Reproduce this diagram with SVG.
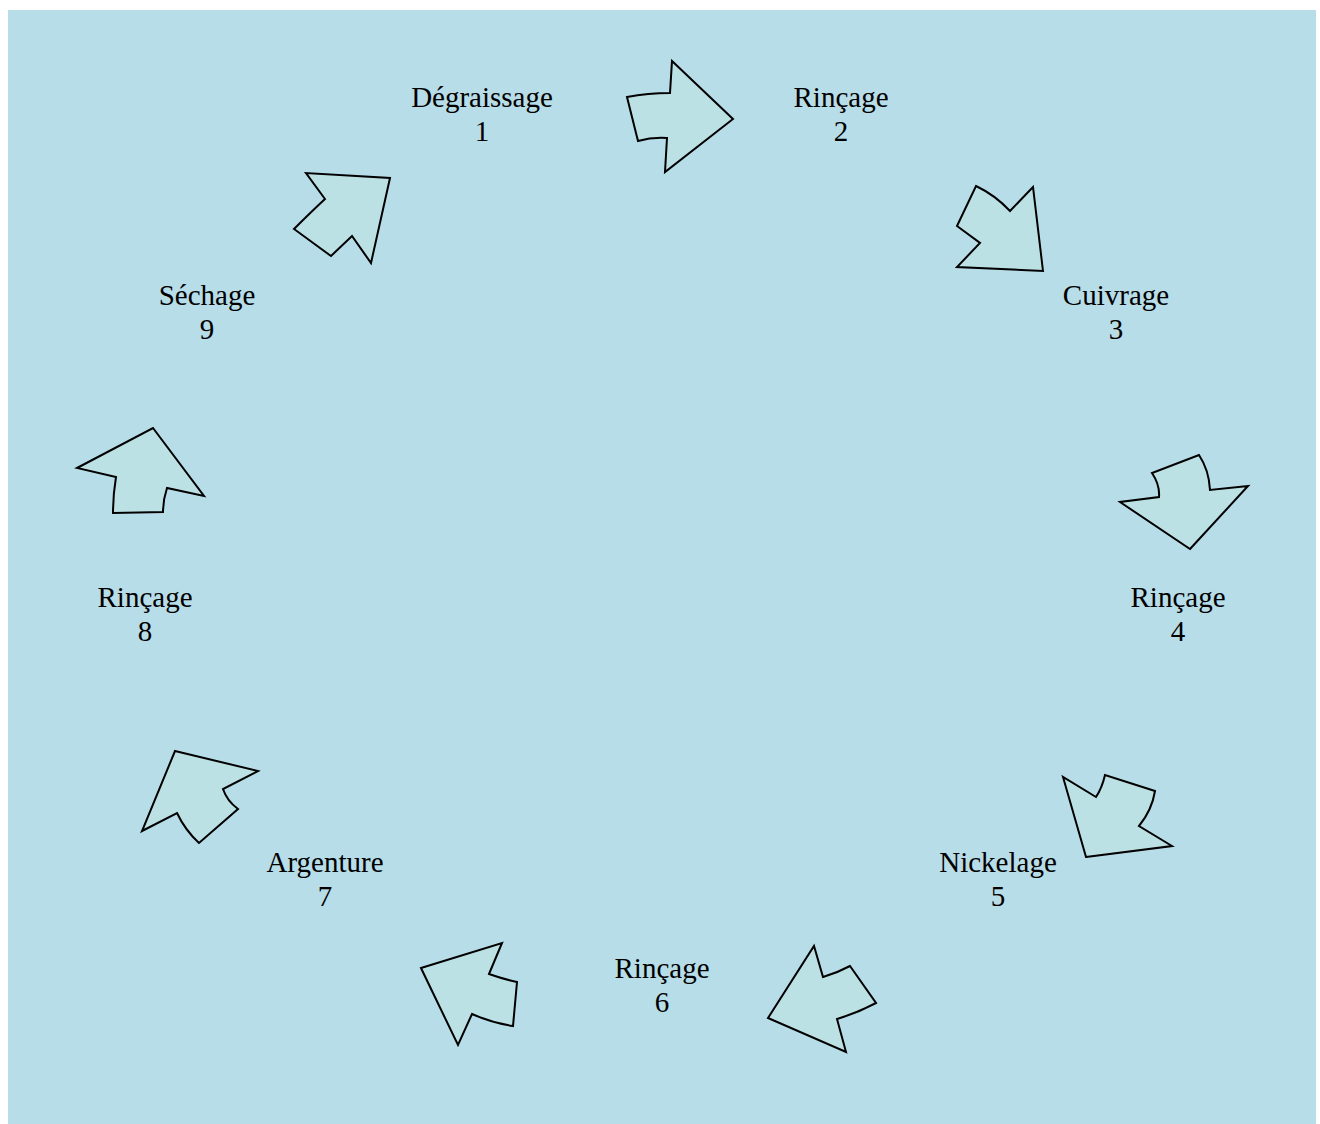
<svg xmlns="http://www.w3.org/2000/svg" width="1320" height="1124" viewBox="0 0 1320 1124">
<style>
.bg{fill:#B7DDE8}
.arr{fill:#BCE1E4;stroke:#000;stroke-width:2;stroke-linejoin:miter}
.lbl{font-family:"Liberation Serif","Times New Roman",serif;font-size:29px;fill:#000;text-anchor:middle}
</style>
<rect class="bg" x="8" y="10" width="1308" height="1114"/>
<g id="connectors">
<path id="a1" class="arr" d="M733,119 L672,61 L670,93 Q648,93 627,97 L638,141 Q652,137 667,138 L665,172 Z"/>
<path id="a2" class="arr" d="M1043,271 L1033,187 L1010,211 Q995,195 976,186 L957,226 L980,243 L957,267 Z"/>
<path id="a3" class="arr" d="M1190,549 L1248,486 L1210,490 Q1209,470 1199,455 L1152,473 Q1160,485 1159,497 L1120,502 Z"/>
<path id="a4" class="arr" d="M1086,857 L1172,846 L1139,826 Q1152,810 1155,791 L1105,775 Q1102,788 1096,797 L1063,777 Z"/>
<path id="a5" class="arr" d="M768,1018 L814,946 L823,977 Q837,973 850,966 L876,1003 Q857,1013 837,1019 L846,1052 Z"/>
<path id="a6" class="arr" d="M421,968 L502,943 L489,974 Q503,979 517,982 L513,1026 Q492,1023 472,1014 L458,1045 Z"/>
<path id="a7" class="arr" d="M175,751 L258,771 L223,789 Q227,801 238,809 L199,843 Q185,830 177,813 L142,831 Z"/>
<path id="a8" class="arr" d="M153,428 L204,496 L167,488 Q163,500 163,512 L113,513 Q113,495 116,477 L77,468 Z"/>
<path id="a9" class="arr" d="M390,178 L371,263 L352,236 L331,256 L294,229 Q311,212 325,199 L306,173 Z"/>
</g>
<g id="n1"><text class="lbl" x="482" y="107">Dégraissage</text><text class="lbl" x="482" y="141">1</text></g>
<g id="n2"><text class="lbl" x="841" y="107">Rinçage</text><text class="lbl" x="841" y="141">2</text></g>
<g id="n3"><text class="lbl" x="1116" y="305">Cuivrage</text><text class="lbl" x="1116" y="339">3</text></g>
<g id="n4"><text class="lbl" x="1178" y="607">Rinçage</text><text class="lbl" x="1178" y="641">4</text></g>
<g id="n5"><text class="lbl" x="998" y="872">Nickelage</text><text class="lbl" x="998" y="906">5</text></g>
<g id="n6"><text class="lbl" x="662" y="978">Rinçage</text><text class="lbl" x="662" y="1012">6</text></g>
<g id="n7"><text class="lbl" x="325" y="872">Argenture</text><text class="lbl" x="325" y="906">7</text></g>
<g id="n8"><text class="lbl" x="145" y="607">Rinçage</text><text class="lbl" x="145" y="641">8</text></g>
<g id="n9"><text class="lbl" x="207" y="305">Séchage</text><text class="lbl" x="207" y="339">9</text></g>
</svg>
